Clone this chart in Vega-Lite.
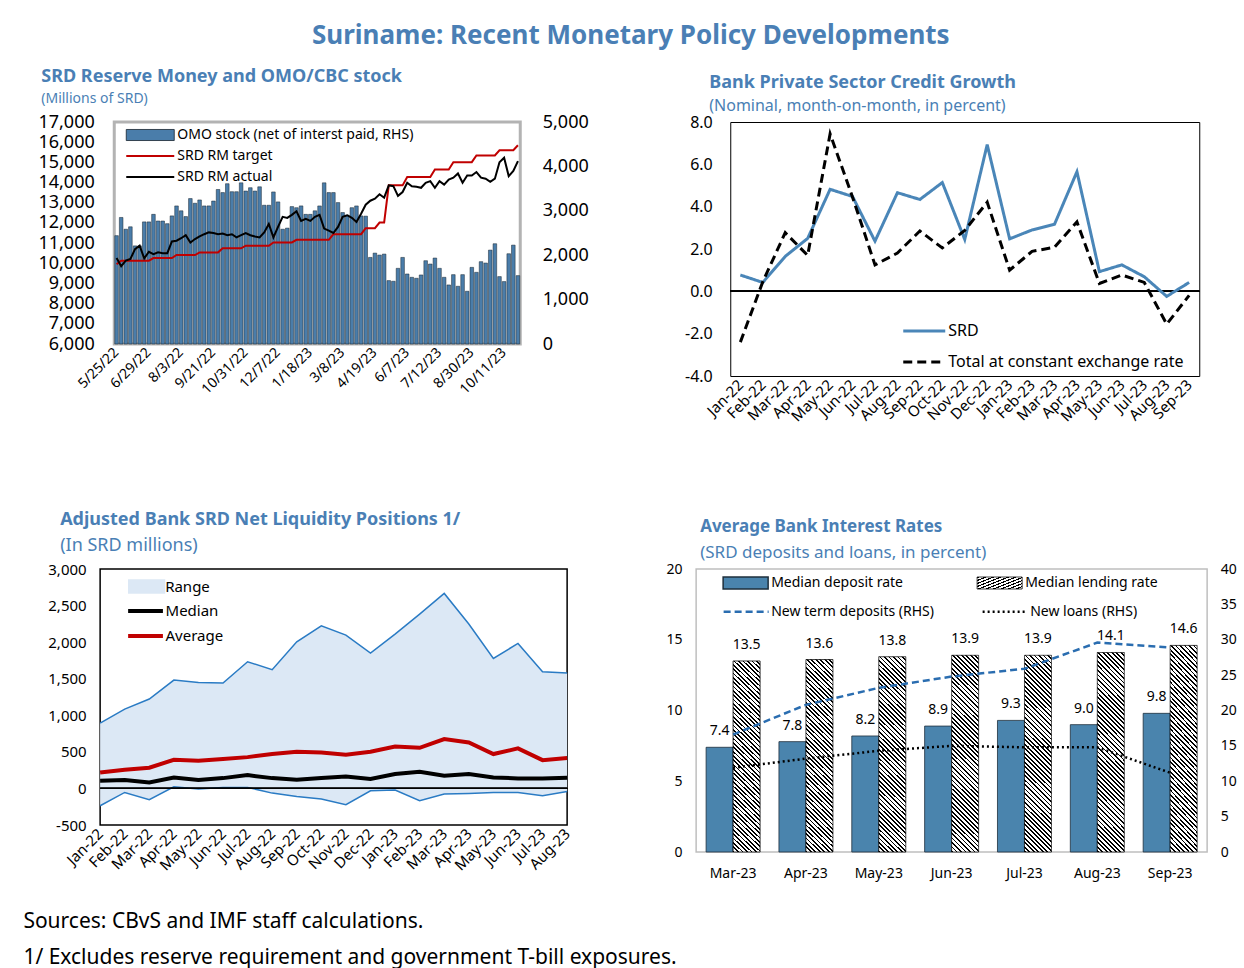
{
"$schema": "https://vega.github.io/schema/vega-lite/v6.json",
"padding": {"left": 21, "top": 22, "right": 0, "bottom": 0},
"background": "white",
"config": {
  "font": "Noto Sans",
  "view": {"stroke": null},
  "axis": {"labelColor": "#000", "labelFont": "Noto Sans", "grid": false, "domain": false, "ticks": false, "labelOverlap": false},
  "legend": {"labelColor": "#000", "labelFont": "Noto Sans", "padding": 0, "labelLimit": 400},
  "title": {"color": "#4a7fb5", "subtitleColor": "#4a7fb5", "fontWeight": "bold", "subtitleFontWeight": "normal", "font": "Noto Sans", "subtitleFont": "Noto Sans"}
},
"title": {"text": "Suriname: Recent Monetary Policy Developments", "fontSize": 26, "anchor": "middle", "offset": 18},
"datasets": {
"rm": [
{"date":"5/25/22","omo":2440,"SRD RM target":9950,"SRD RM actual":10260},
{"date":"5/30/22","omo":2850,"SRD RM target":10130,"SRD RM actual":9850},
{"date":"6/4/22","omo":2585,"SRD RM target":10130,"SRD RM actual":10130},
{"date":"6/9/22","omo":2640,"SRD RM target":10130,"SRD RM actual":10210},
{"date":"6/14/22","omo":2210,"SRD RM target":10130,"SRD RM actual":10700},
{"date":"6/19/22","omo":2210,"SRD RM target":10130,"SRD RM actual":10870},
{"date":"6/24/22","omo":2750,"SRD RM target":10130,"SRD RM actual":10240},
{"date":"6/29/22","omo":2750,"SRD RM target":10130,"SRD RM actual":10570},
{"date":"7/4/22","omo":2920,"SRD RM target":10260,"SRD RM actual":10450},
{"date":"7/9/22","omo":2770,"SRD RM target":10260,"SRD RM actual":10540},
{"date":"7/14/22","omo":2770,"SRD RM target":10260,"SRD RM actual":10500},
{"date":"7/19/22","omo":2710,"SRD RM target":10260,"SRD RM actual":10500},
{"date":"7/24/22","omo":2885,"SRD RM target":10260,"SRD RM actual":11080},
{"date":"7/29/22","omo":3110,"SRD RM target":10410,"SRD RM actual":11120},
{"date":"8/3/22","omo":3000,"SRD RM target":10410,"SRD RM actual":11240},
{"date":"8/10/22","omo":2870,"SRD RM target":10410,"SRD RM actual":11390},
{"date":"8/17/22","omo":3275,"SRD RM target":10410,"SRD RM actual":11030},
{"date":"8/24/22","omo":3170,"SRD RM target":10410,"SRD RM actual":11200},
{"date":"8/31/22","omo":3245,"SRD RM target":10540,"SRD RM actual":11330},
{"date":"9/7/22","omo":3110,"SRD RM target":10540,"SRD RM actual":11440},
{"date":"9/14/22","omo":3110,"SRD RM target":10540,"SRD RM actual":11530},
{"date":"9/21/22","omo":3220,"SRD RM target":10540,"SRD RM actual":11500},
{"date":"9/27/22","omo":3480,"SRD RM target":10540,"SRD RM actual":11440},
{"date":"10/3/22","omo":3410,"SRD RM target":10740,"SRD RM actual":11470},
{"date":"10/9/22","omo":3610,"SRD RM target":10740,"SRD RM actual":11390},
{"date":"10/15/22","omo":3430,"SRD RM target":10740,"SRD RM actual":11440},
{"date":"10/20/22","omo":3430,"SRD RM target":10740,"SRD RM actual":11280},
{"date":"10/25/22","omo":3630,"SRD RM target":10740,"SRD RM actual":11390},
{"date":"10/31/22","omo":3445,"SRD RM target":10870,"SRD RM actual":11500},
{"date":"11/5/22","omo":3520,"SRD RM target":10870,"SRD RM actual":11390},
{"date":"11/10/22","omo":3445,"SRD RM target":10870,"SRD RM actual":11330},
{"date":"11/16/22","omo":3540,"SRD RM target":10870,"SRD RM actual":11280},
{"date":"11/22/22","omo":3125,"SRD RM target":10870,"SRD RM actual":11530},
{"date":"11/27/22","omo":3125,"SRD RM target":10870,"SRD RM actual":11950},
{"date":"12/2/22","omo":3425,"SRD RM target":11030,"SRD RM actual":11280},
{"date":"12/7/22","omo":3200,"SRD RM target":11030,"SRD RM actual":11800},
{"date":"12/13/22","omo":2585,"SRD RM target":11030,"SRD RM actual":12300},
{"date":"12/19/22","omo":2610,"SRD RM target":11030,"SRD RM actual":12250},
{"date":"12/25/22","omo":3095,"SRD RM target":11030,"SRD RM actual":12400},
{"date":"12/31/22","omo":3070,"SRD RM target":11160,"SRD RM actual":12580},
{"date":"1/6/23","omo":3110,"SRD RM target":11160,"SRD RM actual":12100},
{"date":"1/12/23","omo":2920,"SRD RM target":11160,"SRD RM actual":12200},
{"date":"1/18/23","omo":2920,"SRD RM target":11160,"SRD RM actual":12100},
{"date":"1/25/23","omo":3000,"SRD RM target":11160,"SRD RM actual":12300},
{"date":"2/1/23","omo":3110,"SRD RM target":11160,"SRD RM actual":12400},
{"date":"2/8/23","omo":3630,"SRD RM target":11160,"SRD RM actual":11720},
{"date":"2/15/23","omo":3410,"SRD RM target":11160,"SRD RM actual":11620},
{"date":"2/22/23","omo":3410,"SRD RM target":11440,"SRD RM actual":11500},
{"date":"3/1/23","omo":3185,"SRD RM target":11440,"SRD RM actual":11800},
{"date":"3/8/23","omo":2960,"SRD RM target":11440,"SRD RM actual":12300},
{"date":"3/14/23","omo":2900,"SRD RM target":11440,"SRD RM actual":12380},
{"date":"3/20/23","omo":3070,"SRD RM target":11440,"SRD RM actual":12250},
{"date":"3/26/23","omo":3110,"SRD RM target":11440,"SRD RM actual":12050},
{"date":"4/1/23","omo":2885,"SRD RM target":11440,"SRD RM actual":12450},
{"date":"4/7/23","omo":2880,"SRD RM target":11740,"SRD RM actual":12900},
{"date":"4/13/23","omo":1950,"SRD RM target":11740,"SRD RM actual":13100},
{"date":"4/19/23","omo":2047,"SRD RM target":11740,"SRD RM actual":13200},
{"date":"4/26/23","omo":2003,"SRD RM target":12020,"SRD RM actual":13420},
{"date":"5/3/23","omo":2025,"SRD RM target":12020,"SRD RM actual":13250},
{"date":"5/10/23","omo":1428,"SRD RM target":13860,"SRD RM actual":13860},
{"date":"5/17/23","omo":1413,"SRD RM target":13860,"SRD RM actual":13820},
{"date":"5/24/23","omo":1704,"SRD RM target":13860,"SRD RM actual":13340},
{"date":"5/31/23","omo":1950,"SRD RM target":13860,"SRD RM actual":13530},
{"date":"6/7/23","omo":1577,"SRD RM target":14270,"SRD RM actual":13990},
{"date":"6/12/23","omo":1502,"SRD RM target":14270,"SRD RM actual":13820},
{"date":"6/17/23","omo":1480,"SRD RM target":14270,"SRD RM actual":13790},
{"date":"6/22/23","omo":1555,"SRD RM target":14270,"SRD RM actual":13740},
{"date":"6/27/23","omo":1876,"SRD RM target":14270,"SRD RM actual":13990},
{"date":"7/2/23","omo":1801,"SRD RM target":14270,"SRD RM actual":14070},
{"date":"7/7/23","omo":1936,"SRD RM target":14650,"SRD RM actual":13740},
{"date":"7/12/23","omo":1704,"SRD RM target":14650,"SRD RM actual":14070},
{"date":"7/19/23","omo":1502,"SRD RM target":14650,"SRD RM actual":13900},
{"date":"7/26/23","omo":1330,"SRD RM target":14650,"SRD RM actual":14150},
{"date":"8/2/23","omo":1562,"SRD RM target":15010,"SRD RM actual":14240},
{"date":"8/9/23","omo":1300,"SRD RM target":15010,"SRD RM actual":14450},
{"date":"8/16/23","omo":1562,"SRD RM target":15010,"SRD RM actual":13990},
{"date":"8/23/23","omo":1188,"SRD RM target":15010,"SRD RM actual":14350},
{"date":"8/30/23","omo":1726,"SRD RM target":15010,"SRD RM actual":14350},
{"date":"9/5/23","omo":1614,"SRD RM target":15340,"SRD RM actual":14520},
{"date":"9/11/23","omo":1854,"SRD RM target":15340,"SRD RM actual":14240},
{"date":"9/17/23","omo":1823,"SRD RM target":15340,"SRD RM actual":14190},
{"date":"9/23/23","omo":2115,"SRD RM target":15340,"SRD RM actual":14040},
{"date":"9/29/23","omo":2258,"SRD RM target":15340,"SRD RM actual":14190},
{"date":"10/5/23","omo":1518,"SRD RM target":15600,"SRD RM actual":15010},
{"date":"10/11/23","omo":1406,"SRD RM target":15600,"SRD RM actual":15230},
{"date":"10/17/23","omo":2033,"SRD RM target":15600,"SRD RM actual":14320},
{"date":"10/23/23","omo":2227,"SRD RM target":15600,"SRD RM actual":14570},
{"date":"10/29/23","omo":1540,"SRD RM target":15850,"SRD RM actual":15060}
],
"credit": [
{"month":"Jan-22","SRD":0.77,"Total at constant exchange rate":-2.4},
{"month":"Feb-22","SRD":0.42,"Total at constant exchange rate":0.45},
{"month":"Mar-22","SRD":1.65,"Total at constant exchange rate":2.77},
{"month":"Apr-22","SRD":2.5,"Total at constant exchange rate":1.7},
{"month":"May-22","SRD":4.82,"Total at constant exchange rate":7.44},
{"month":"Jun-22","SRD":4.48,"Total at constant exchange rate":4.45},
{"month":"Jul-22","SRD":2.37,"Total at constant exchange rate":1.25},
{"month":"Aug-22","SRD":4.66,"Total at constant exchange rate":1.81},
{"month":"Sep-22","SRD":4.34,"Total at constant exchange rate":2.85},
{"month":"Oct-22","SRD":5.14,"Total at constant exchange rate":2.05},
{"month":"Nov-22","SRD":2.45,"Total at constant exchange rate":2.88},
{"month":"Dec-22","SRD":6.93,"Total at constant exchange rate":4.21},
{"month":"Jan-23","SRD":2.48,"Total at constant exchange rate":1.0},
{"month":"Feb-23","SRD":2.9,"Total at constant exchange rate":1.89},
{"month":"Mar-23","SRD":3.17,"Total at constant exchange rate":2.08},
{"month":"Apr-23","SRD":5.65,"Total at constant exchange rate":3.28},
{"month":"May-23","SRD":0.93,"Total at constant exchange rate":0.37},
{"month":"Jun-23","SRD":1.25,"Total at constant exchange rate":0.77},
{"month":"Jul-23","SRD":0.69,"Total at constant exchange rate":0.42},
{"month":"Aug-23","SRD":-0.24,"Total at constant exchange rate":-1.55},
{"month":"Sep-23","SRD":0.42,"Total at constant exchange rate":-0.19}
],
"liq": [
{"month":"Jan-22","low":-237,"high":893,"Median":105,"Average":219},
{"month":"Feb-22","low":-55,"high":1085,"Median":114,"Average":255},
{"month":"Mar-22","low":-155,"high":1222,"Median":82,"Average":283},
{"month":"Apr-22","low":23,"high":1481,"Median":150,"Average":392},
{"month":"May-22","low":-9,"high":1449,"Median":114,"Average":378},
{"month":"Jun-22","low":14,"high":1440,"Median":141,"Average":401},
{"month":"Jul-22","low":14,"high":1732,"Median":182,"Average":428},
{"month":"Aug-22","low":-64,"high":1623,"Median":141,"Average":470},
{"month":"Sep-22","low":-109,"high":2005,"Median":118,"Average":501},
{"month":"Oct-22","low":-146,"high":2224,"Median":141,"Average":492},
{"month":"Nov-22","low":-223,"high":2097,"Median":164,"Average":460},
{"month":"Dec-22","low":-32,"high":1850,"Median":128,"Average":501},
{"month":"Jan-23","low":-23,"high":2110,"Median":196,"Average":574},
{"month":"Feb-23","low":-169,"high":2384,"Median":228,"Average":556},
{"month":"Mar-23","low":-77,"high":2666,"Median":173,"Average":675},
{"month":"Apr-23","low":-68,"high":2247,"Median":196,"Average":629},
{"month":"May-23","low":-55,"high":1777,"Median":150,"Average":470},
{"month":"Jun-23","low":-55,"high":1983,"Median":137,"Average":547},
{"month":"Jul-23","low":-100,"high":1595,"Median":137,"Average":387},
{"month":"Aug-23","low":-41,"high":1577,"Median":146,"Average":415}
],
"rates": [
{"month":"Mar-23","dep":7.4,"lend":13.5,"New term deposits (RHS)":16.6,"New loans (RHS)":11.9},
{"month":"Apr-23","dep":7.8,"lend":13.6,"New term deposits (RHS)":20.8,"New loans (RHS)":13.2},
{"month":"May-23","dep":8.2,"lend":13.8,"New term deposits (RHS)":23.2,"New loans (RHS)":14.3},
{"month":"Jun-23","dep":8.9,"lend":13.9,"New term deposits (RHS)":24.8,"New loans (RHS)":15.0},
{"month":"Jul-23","dep":9.3,"lend":13.9,"New term deposits (RHS)":25.9,"New loans (RHS)":14.8},
{"month":"Aug-23","dep":9.0,"lend":14.1,"New term deposits (RHS)":29.6,"New loans (RHS)":14.8},
{"month":"Sep-23","dep":9.8,"lend":14.6,"New term deposits (RHS)":28.9,"New loans (RHS)":11.2}
]
},
"center": true,
"spacing": 85,
"resolve": {"scale": {"fill": "independent", "stroke": "independent", "strokeDash": "independent", "opacity": "independent", "xOffset": "independent"}},
"vconcat": [
{
"spacing": 90,
"resolve": {"scale": {"fill": "independent", "stroke": "independent", "strokeDash": "independent"}},
"hconcat": [
{
  "width": 406, "height": 222,
  "view": {"stroke": "#b3b3b3", "strokeWidth": 3},
  "title": {"text": "SRD Reserve Money and OMO/CBC stock", "subtitle": "(Millions of SRD)", "anchor": "start", "frame": "group", "dx": -73, "fontSize": 18, "subtitleFontSize": 14, "offset": 7, "subtitlePadding": 6},
  "data": {"name": "rm"},
  "encoding": {
    "x": {"field": "date", "type": "ordinal", "sort": null, "scale": {"paddingInner": 0, "paddingOuter": 0},
      "axis": {"values": ["5/25/22","6/29/22","8/3/22","9/21/22","10/31/22","12/7/22","1/18/23","3/8/23","4/19/23","6/7/23","7/12/23","8/30/23","10/11/23"], "labelAngle": -45, "labelAlign": "right", "labelBaseline": "middle", "labelFontSize": 14, "labelPadding": 6, "labelOverlap": false, "title": null}}
  },
  "layer": [
    {"mark": {"type": "bar", "width": {"band": 0.78}, "stroke": "#17222d", "strokeWidth": 0.5},
     "encoding": {
       "y": {"field": "omo", "type": "quantitative", "scale": {"domain": [0, 5000]}, "axis": {"orient": "right", "values": [0,1000,2000,3000,4000,5000], "format": ",d", "labelFontSize": 18, "labelPadding": 22, "minExtent": 70, "title": null}},
       "fill": {"datum": "OMO stock (net of interst paid, RHS)", "type": "nominal", "scale": {"range": ["#4a7daa"]},
         "legend": {"title": null, "orient": "none", "legendX": 12, "legendY": 6, "symbolType": "M-4,-0.92H4V0.92H-4Z", "symbolSize": 144, "symbolStrokeColor": "#17222d", "symbolStrokeWidth": 0.8, "symbolOffset": 17, "labelOffset": 20, "labelFontSize": 14, "padding": 0}}
     }},
    {"transform": [{"fold": ["SRD RM target", "SRD RM actual"], "as": ["series", "val"]}],
     "mark": {"type": "line", "strokeWidth": 2},
     "encoding": {
       "y": {"field": "val", "type": "quantitative", "scale": {"domain": [6000, 17000]}, "axis": {"orient": "left", "values": [6000,7000,8000,9000,10000,11000,12000,13000,14000,15000,16000,17000], "format": ",d", "labelFontSize": 18, "labelPadding": 20, "minExtent": 91, "title": null}},
       "stroke": {"field": "series", "type": "nominal", "scale": {"domain": ["SRD RM target", "SRD RM actual"], "range": ["#c00000", "#000000"]},
         "legend": {"title": null, "orient": "none", "legendX": 12, "legendY": 27, "symbolType": "M-4,0H4", "symbolSize": 144, "symbolStrokeWidth": 2, "symbolOffset": 17, "labelOffset": 20, "labelFontSize": 14, "rowPadding": 7, "padding": 0}},
       "order": {"value": null}
     }}
  ],
  "resolve": {"scale": {"y": "independent"}}
},
{
  "width": 469, "height": 254,
  "view": {"stroke": "#000", "strokeWidth": 1},
  "title": {"text": "Bank Private Sector Credit Growth", "subtitle": "(Nominal, month-on-month, in percent)", "anchor": "start", "frame": "group", "dx": -21, "fontSize": 18, "subtitleFontSize": 16, "offset": 0, "subtitlePadding": 6},
  "data": {"name": "credit"},
  "layer": [
    {"mark": {"type": "rule", "color": "#000", "strokeWidth": 1},
     "encoding": {"y": {"datum": 0, "type": "quantitative", "scale": {"domain": [-4, 8]},
       "axis": {"orient": "right", "values": [0], "labelOpacity": 0, "labelFontSize": 8, "labelPadding": 0, "minExtent": 26, "maxExtent": 26, "title": null}}}},
    {"transform": [{"fold": ["SRD", "Total at constant exchange rate"], "as": ["series", "val"]}],
     "mark": {"type": "line", "strokeWidth": 3},
     "encoding": {
       "x": {"field": "month", "type": "ordinal", "sort": null, "scale": {"type": "point", "padding": 0.45},
         "axis": {"labelAngle": -45, "labelAlign": "right", "labelBaseline": "middle", "labelFontSize": 15, "labelPadding": 6, "labelOverlap": false, "title": null}},
       "y": {"field": "val", "type": "quantitative", "scale": {"domain": [-4, 8]}, "axis": {"orient": "left", "values": [-4,-2,0,2,4,6,8], "labelExpr": "datum.value < 0 ? '-' + format(-datum.value, '.1f') : format(datum.value, '.1f')", "labelFontSize": 16, "labelPadding": 18, "minExtent": 47, "title": null}},
       "stroke": {"field": "series", "type": "nominal", "scale": {"domain": ["SRD", "Total at constant exchange rate"], "range": ["#4a86b8", "#000000"]},
         "legend": {"title": null, "orient": "none", "legendX": 173, "legendY": 201, "symbolType": "M-3.5,0H3.5", "symbolSize": 144, "symbolStrokeWidth": 3, "symbolOffset": 13, "labelOffset": 16, "labelFontSize": 16, "rowPadding": 15, "padding": 0}},
       "strokeDash": {"field": "series", "type": "nominal", "scale": {"domain": ["SRD", "Total at constant exchange rate"], "range": [[1,0],[9,5]]},
         "legend": {"title": null, "orient": "none", "legendX": 173, "legendY": 201, "symbolType": "M-3.5,0H3.5", "symbolSize": 144, "symbolStrokeWidth": 3, "symbolOffset": 13, "labelOffset": 16, "labelFontSize": 16, "rowPadding": 15, "padding": 0}},
       "order": {"value": null}
     }}
  ],
  "resolve": {"axis": {"y": "independent"}}
}
]
},
{
"spacing": 87,
"resolve": {"scale": {"fill": "independent", "stroke": "independent", "strokeDash": "independent", "opacity": "independent", "xOffset": "independent"}},
"title": {"text": ["Sources: CBvS and IMF staff calculations.", "1/ Excludes reserve requirement and government T-bill exposures."], "orient": "bottom", "anchor": "start", "frame": "bounds", "dx": -13, "fontSize": 21, "fontWeight": "normal", "color": "#000", "lineHeight": 36, "offset": 30},
"hconcat": [
{
  "width": 467, "height": 256,
  "view": {"stroke": "#000", "strokeWidth": 1.5},
  "title": {"text": "Adjusted Bank SRD Net Liquidity Positions 1/", "subtitle": "(In SRD millions)", "anchor": "start", "frame": "group", "dx": -40, "fontSize": 18, "subtitleFontSize": 18, "offset": 7, "subtitlePadding": 8},
  "data": {"name": "liq"},
  "layer": [
    {"mark": {"type": "area", "opacity": 1},
     "encoding": {
       "x": {"field": "month", "type": "ordinal", "sort": null, "scale": {"type": "point", "padding": 0},
         "axis": {"labelAngle": -45, "labelAlign": "right", "labelBaseline": "middle", "labelFontSize": 15, "labelPadding": 6, "labelOverlap": false, "title": null}},
       "y": {"field": "low", "type": "quantitative", "stack": null, "scale": {"domain": [-500, 3000]},
         "axis": {"values": [-500,0,500,1000,1500,2000,2500,3000], "labelExpr": "datum.value < 0 ? '-' + format(-datum.value, ',') : format(datum.value, ',')", "labelFontSize": 15, "labelPadding": 14, "labelOverlap": false, "minExtent": 63, "title": null}},
       "y2": {"field": "high"},
       "fill": {"datum": "Range", "type": "nominal", "scale": {"range": ["#dce8f5"]},
         "legend": {"title": null, "orient": "none", "legendX": 28, "legendY": 10, "symbolType": "M-3.1,-1.2H3.1V1.2H-3.1Z", "symbolSize": 144, "symbolStrokeWidth": 0, "symbolOffset": 11, "labelOffset": 11, "labelFontSize": 15, "padding": 0}},
       "order": {"value": null}
     }},
    {"mark": {"type": "line", "color": "#2a7bc4", "strokeWidth": 1.5},
     "encoding": {
       "x": {"field": "month", "type": "ordinal", "sort": null, "scale": {"type": "point", "padding": 0},
         "axis": {"labelAngle": -45, "labelAlign": "right", "labelBaseline": "middle", "labelFontSize": 15, "labelPadding": 6, "labelOverlap": false, "title": null}},
       "y": {"field": "high", "type": "quantitative", "scale": {"domain": [-500, 3000]},
         "axis": {"values": [-500,0,500,1000,1500,2000,2500,3000], "labelExpr": "datum.value < 0 ? '-' + format(-datum.value, ',') : format(datum.value, ',')", "labelFontSize": 15, "labelPadding": 14, "labelOverlap": false, "minExtent": 63, "title": null}},
       "order": {"value": null}
     }},
    {"mark": {"type": "line", "color": "#2a7bc4", "strokeWidth": 1.5},
     "encoding": {
       "x": {"field": "month", "type": "ordinal", "sort": null, "scale": {"type": "point", "padding": 0},
         "axis": {"labelAngle": -45, "labelAlign": "right", "labelBaseline": "middle", "labelFontSize": 15, "labelPadding": 6, "labelOverlap": false, "title": null}},
       "y": {"field": "low", "type": "quantitative", "scale": {"domain": [-500, 3000]},
         "axis": {"values": [-500,0,500,1000,1500,2000,2500,3000], "labelExpr": "datum.value < 0 ? '-' + format(-datum.value, ',') : format(datum.value, ',')", "labelFontSize": 15, "labelPadding": 14, "labelOverlap": false, "minExtent": 63, "title": null}},
       "order": {"value": null}
     }},
    {"mark": {"type": "rule", "color": "#000", "strokeWidth": 1},
     "encoding": {"y": {"datum": 0, "type": "quantitative", "scale": {"domain": [-500, 3000]},
         "axis": {"values": [-500,0,500,1000,1500,2000,2500,3000], "labelExpr": "datum.value < 0 ? '-' + format(-datum.value, ',') : format(datum.value, ',')", "labelFontSize": 15, "labelPadding": 14, "labelOverlap": false, "minExtent": 63, "title": null}}}},
    {"transform": [{"fold": ["Median", "Average"], "as": ["series", "val"]}],
     "mark": {"type": "line", "strokeWidth": 4},
     "encoding": {
       "x": {"field": "month", "type": "ordinal", "sort": null, "scale": {"type": "point", "padding": 0},
         "axis": {"labelAngle": -45, "labelAlign": "right", "labelBaseline": "middle", "labelFontSize": 15, "labelPadding": 6, "labelOverlap": false, "title": null}},
       "y": {"field": "val", "type": "quantitative", "scale": {"domain": [-500, 3000]},
         "axis": {"values": [-500,0,500,1000,1500,2000,2500,3000], "labelExpr": "datum.value < 0 ? '-' + format(-datum.value, ',') : format(datum.value, ',')", "labelFontSize": 15, "labelPadding": 14, "labelOverlap": false, "minExtent": 63, "title": null}},
       "stroke": {"field": "series", "type": "nominal", "scale": {"domain": ["Median", "Average"], "range": ["#000000", "#c00000"]},
         "legend": {"title": null, "orient": "none", "legendX": 28, "legendY": 34, "symbolType": "M-2.9,0H2.9", "symbolSize": 144, "symbolStrokeWidth": 4, "symbolOffset": 9.4, "labelOffset": 12, "labelFontSize": 15, "rowPadding": 9, "padding": 0}},
       "order": {"value": null}
     }}
  ]
},
{
  "width": 511, "height": 283,
  "view": {"stroke": "#bfbfbf", "strokeWidth": 1.5},
  "title": {"text": "Average Bank Interest Rates", "subtitle": "(SRD deposits and loans, in percent)", "anchor": "start", "frame": "group", "dx": 4, "fontSize": 17, "subtitleFontSize": 17, "offset": 0, "subtitlePadding": 9},
  "data": {"name": "rates"},
  "encoding": {
    "x": {"field": "month", "type": "ordinal", "sort": null, "scale": {"paddingInner": 0.259, "paddingOuter": 0.137},
      "axis": {"labelAngle": 0, "labelFontSize": 14, "labelPadding": 14, "title": null}}
  },
  "layer": [
    {"mark": {"type": "bar", "fill": "#4a84ad", "stroke": "#1e2f3c", "strokeWidth": 0.8},
     "encoding": {
       "xOffset": {"datum": "dep", "scale": {"domain": ["dep", "lend"]}},
       "y": {"field": "dep", "type": "quantitative", "scale": {"domain": [0, 20]}, "axis": {"orient": "left", "values": [0,5,10,15,20], "labelFontSize": 14, "labelPadding": 14, "minExtent": 32, "title": null}},
       "opacity": {"datum": "Median deposit rate", "type": "nominal", "scale": {"range": [1]},
         "legend": {"title": null, "orient": "none", "legendX": 27, "legendY": 7, "symbolType": "M-3.75,-1H3.75V1H-3.75Z", "symbolSize": 144, "symbolOffset": 15.5, "labelOffset": 18.5, "labelFontSize": 14, "padding": 0,
           "encode": {"symbols": {"update": {"fill": {"value": "#4a84ad"}, "stroke": {"value": "#1e2f3c"}, "strokeWidth": {"value": 0.8}}}}}}
     }},
    {"mark": {"type": "bar", "stroke": "#000", "strokeWidth": 0.8,
       "fill": {"gradient": "linear", "x1": 0, "y1": 1, "x2": 0.1521, "y2": -0.1156, "stops": [
         {"offset":0,"color":"#000"},{"offset":0.008,"color":"#000"},{"offset":0.008,"color":"#fff"},{"offset":0.02,"color":"#fff"},
         {"offset":0.02,"color":"#000"},{"offset":0.028,"color":"#000"},{"offset":0.028,"color":"#fff"},{"offset":0.04,"color":"#fff"},
         {"offset":0.04,"color":"#000"},{"offset":0.048,"color":"#000"},{"offset":0.048,"color":"#fff"},{"offset":0.06,"color":"#fff"},
         {"offset":0.06,"color":"#000"},{"offset":0.068,"color":"#000"},{"offset":0.068,"color":"#fff"},{"offset":0.08,"color":"#fff"},
         {"offset":0.08,"color":"#000"},{"offset":0.088,"color":"#000"},{"offset":0.088,"color":"#fff"},{"offset":0.1,"color":"#fff"},
         {"offset":0.1,"color":"#000"},{"offset":0.108,"color":"#000"},{"offset":0.108,"color":"#fff"},{"offset":0.12,"color":"#fff"},
         {"offset":0.12,"color":"#000"},{"offset":0.128,"color":"#000"},{"offset":0.128,"color":"#fff"},{"offset":0.14,"color":"#fff"},
         {"offset":0.14,"color":"#000"},{"offset":0.148,"color":"#000"},{"offset":0.148,"color":"#fff"},{"offset":0.16,"color":"#fff"},
         {"offset":0.16,"color":"#000"},{"offset":0.168,"color":"#000"},{"offset":0.168,"color":"#fff"},{"offset":0.18,"color":"#fff"},
         {"offset":0.18,"color":"#000"},{"offset":0.188,"color":"#000"},{"offset":0.188,"color":"#fff"},{"offset":0.2,"color":"#fff"},
         {"offset":0.2,"color":"#000"},{"offset":0.208,"color":"#000"},{"offset":0.208,"color":"#fff"},{"offset":0.22,"color":"#fff"},
         {"offset":0.22,"color":"#000"},{"offset":0.228,"color":"#000"},{"offset":0.228,"color":"#fff"},{"offset":0.24,"color":"#fff"},
         {"offset":0.24,"color":"#000"},{"offset":0.248,"color":"#000"},{"offset":0.248,"color":"#fff"},{"offset":0.26,"color":"#fff"},
         {"offset":0.26,"color":"#000"},{"offset":0.268,"color":"#000"},{"offset":0.268,"color":"#fff"},{"offset":0.28,"color":"#fff"},
         {"offset":0.28,"color":"#000"},{"offset":0.288,"color":"#000"},{"offset":0.288,"color":"#fff"},{"offset":0.3,"color":"#fff"},
         {"offset":0.3,"color":"#000"},{"offset":0.308,"color":"#000"},{"offset":0.308,"color":"#fff"},{"offset":0.32,"color":"#fff"},
         {"offset":0.32,"color":"#000"},{"offset":0.328,"color":"#000"},{"offset":0.328,"color":"#fff"},{"offset":0.34,"color":"#fff"},
         {"offset":0.34,"color":"#000"},{"offset":0.348,"color":"#000"},{"offset":0.348,"color":"#fff"},{"offset":0.36,"color":"#fff"},
         {"offset":0.36,"color":"#000"},{"offset":0.368,"color":"#000"},{"offset":0.368,"color":"#fff"},{"offset":0.38,"color":"#fff"},
         {"offset":0.38,"color":"#000"},{"offset":0.388,"color":"#000"},{"offset":0.388,"color":"#fff"},{"offset":0.4,"color":"#fff"},
         {"offset":0.4,"color":"#000"},{"offset":0.408,"color":"#000"},{"offset":0.408,"color":"#fff"},{"offset":0.42,"color":"#fff"},
         {"offset":0.42,"color":"#000"},{"offset":0.428,"color":"#000"},{"offset":0.428,"color":"#fff"},{"offset":0.44,"color":"#fff"},
         {"offset":0.44,"color":"#000"},{"offset":0.448,"color":"#000"},{"offset":0.448,"color":"#fff"},{"offset":0.46,"color":"#fff"},
         {"offset":0.46,"color":"#000"},{"offset":0.468,"color":"#000"},{"offset":0.468,"color":"#fff"},{"offset":0.48,"color":"#fff"},
         {"offset":0.48,"color":"#000"},{"offset":0.488,"color":"#000"},{"offset":0.488,"color":"#fff"},{"offset":0.5,"color":"#fff"},
         {"offset":0.5,"color":"#000"},{"offset":0.508,"color":"#000"},{"offset":0.508,"color":"#fff"},{"offset":0.52,"color":"#fff"},
         {"offset":0.52,"color":"#000"},{"offset":0.528,"color":"#000"},{"offset":0.528,"color":"#fff"},{"offset":0.54,"color":"#fff"},
         {"offset":0.54,"color":"#000"},{"offset":0.548,"color":"#000"},{"offset":0.548,"color":"#fff"},{"offset":0.56,"color":"#fff"},
         {"offset":0.56,"color":"#000"},{"offset":0.568,"color":"#000"},{"offset":0.568,"color":"#fff"},{"offset":0.58,"color":"#fff"},
         {"offset":0.58,"color":"#000"},{"offset":0.588,"color":"#000"},{"offset":0.588,"color":"#fff"},{"offset":0.6,"color":"#fff"},
         {"offset":0.6,"color":"#000"},{"offset":0.608,"color":"#000"},{"offset":0.608,"color":"#fff"},{"offset":0.62,"color":"#fff"},
         {"offset":0.62,"color":"#000"},{"offset":0.628,"color":"#000"},{"offset":0.628,"color":"#fff"},{"offset":0.64,"color":"#fff"},
         {"offset":0.64,"color":"#000"},{"offset":0.648,"color":"#000"},{"offset":0.648,"color":"#fff"},{"offset":0.66,"color":"#fff"},
         {"offset":0.66,"color":"#000"},{"offset":0.668,"color":"#000"},{"offset":0.668,"color":"#fff"},{"offset":0.68,"color":"#fff"},
         {"offset":0.68,"color":"#000"},{"offset":0.688,"color":"#000"},{"offset":0.688,"color":"#fff"},{"offset":0.7,"color":"#fff"},
         {"offset":0.7,"color":"#000"},{"offset":0.708,"color":"#000"},{"offset":0.708,"color":"#fff"},{"offset":0.72,"color":"#fff"},
         {"offset":0.72,"color":"#000"},{"offset":0.728,"color":"#000"},{"offset":0.728,"color":"#fff"},{"offset":0.74,"color":"#fff"},
         {"offset":0.74,"color":"#000"},{"offset":0.748,"color":"#000"},{"offset":0.748,"color":"#fff"},{"offset":0.76,"color":"#fff"},
         {"offset":0.76,"color":"#000"},{"offset":0.768,"color":"#000"},{"offset":0.768,"color":"#fff"},{"offset":0.78,"color":"#fff"},
         {"offset":0.78,"color":"#000"},{"offset":0.788,"color":"#000"},{"offset":0.788,"color":"#fff"},{"offset":0.8,"color":"#fff"},
         {"offset":0.8,"color":"#000"},{"offset":0.808,"color":"#000"},{"offset":0.808,"color":"#fff"},{"offset":0.82,"color":"#fff"},
         {"offset":0.82,"color":"#000"},{"offset":0.828,"color":"#000"},{"offset":0.828,"color":"#fff"},{"offset":0.84,"color":"#fff"},
         {"offset":0.84,"color":"#000"},{"offset":0.848,"color":"#000"},{"offset":0.848,"color":"#fff"},{"offset":0.86,"color":"#fff"},
         {"offset":0.86,"color":"#000"},{"offset":0.868,"color":"#000"},{"offset":0.868,"color":"#fff"},{"offset":0.88,"color":"#fff"},
         {"offset":0.88,"color":"#000"},{"offset":0.888,"color":"#000"},{"offset":0.888,"color":"#fff"},{"offset":0.9,"color":"#fff"},
         {"offset":0.9,"color":"#000"},{"offset":0.908,"color":"#000"},{"offset":0.908,"color":"#fff"},{"offset":0.92,"color":"#fff"},
         {"offset":0.92,"color":"#000"},{"offset":0.928,"color":"#000"},{"offset":0.928,"color":"#fff"},{"offset":0.94,"color":"#fff"},
         {"offset":0.94,"color":"#000"},{"offset":0.948,"color":"#000"},{"offset":0.948,"color":"#fff"},{"offset":0.96,"color":"#fff"},
         {"offset":0.96,"color":"#000"},{"offset":0.968,"color":"#000"},{"offset":0.968,"color":"#fff"},{"offset":0.98,"color":"#fff"},
         {"offset":0.98,"color":"#000"},{"offset":0.988,"color":"#000"},{"offset":0.988,"color":"#fff"},{"offset":1,"color":"#fff"}
       ]}},
     "encoding": {
       "xOffset": {"datum": "lend", "scale": {"domain": ["dep", "lend"]}},
       "y": {"field": "lend", "type": "quantitative", "scale": {"domain": [0, 20]}, "axis": null},
       "strokeDash": {"datum": "Median lending rate", "type": "nominal", "scale": {"range": [[1,0]]},
         "legend": {"title": null, "orient": "none", "legendX": 281, "legendY": 7, "symbolType": "M-3.75,-1H3.75V1H-3.75Z", "symbolSize": 144, "symbolStrokeWidth": 0.8, "symbolOffset": 15.5, "labelOffset": 18.5, "labelFontSize": 14, "padding": 0,
           "encode": {"symbols": {"update": {
             "fill": {"value": {"gradient": "linear", "x1": 0, "y1": 1, "x2": 1.1826, "y2": 0.6847, "stops": [
               {"offset":0,"color":"#000"},{"offset":0.032,"color":"#000"},{"offset":0.032,"color":"#fff"},{"offset":0.079,"color":"#fff"},
               {"offset":0.079,"color":"#000"},{"offset":0.111,"color":"#000"},{"offset":0.111,"color":"#fff"},{"offset":0.158,"color":"#fff"},
               {"offset":0.158,"color":"#000"},{"offset":0.19,"color":"#000"},{"offset":0.19,"color":"#fff"},{"offset":0.237,"color":"#fff"},
               {"offset":0.237,"color":"#000"},{"offset":0.269,"color":"#000"},{"offset":0.269,"color":"#fff"},{"offset":0.316,"color":"#fff"},
               {"offset":0.316,"color":"#000"},{"offset":0.348,"color":"#000"},{"offset":0.348,"color":"#fff"},{"offset":0.395,"color":"#fff"},
               {"offset":0.395,"color":"#000"},{"offset":0.427,"color":"#000"},{"offset":0.427,"color":"#fff"},{"offset":0.474,"color":"#fff"},
               {"offset":0.474,"color":"#000"},{"offset":0.506,"color":"#000"},{"offset":0.506,"color":"#fff"},{"offset":0.553,"color":"#fff"},
               {"offset":0.553,"color":"#000"},{"offset":0.585,"color":"#000"},{"offset":0.585,"color":"#fff"},{"offset":0.632,"color":"#fff"},
               {"offset":0.632,"color":"#000"},{"offset":0.664,"color":"#000"},{"offset":0.664,"color":"#fff"},{"offset":0.711,"color":"#fff"},
               {"offset":0.711,"color":"#000"},{"offset":0.743,"color":"#000"},{"offset":0.743,"color":"#fff"},{"offset":0.79,"color":"#fff"},
               {"offset":0.79,"color":"#000"},{"offset":0.822,"color":"#000"},{"offset":0.822,"color":"#fff"},{"offset":0.869,"color":"#fff"},
               {"offset":0.869,"color":"#000"},{"offset":0.901,"color":"#000"},{"offset":0.901,"color":"#fff"},{"offset":0.948,"color":"#fff"},
               {"offset":0.948,"color":"#000"},{"offset":0.98,"color":"#000"},{"offset":0.98,"color":"#fff"},{"offset":1,"color":"#fff"}
             ]}},
             "stroke": {"value": "#000"},
             "strokeWidth": {"value": 0.8}
           }}}}}
     }},
    {"mark": {"type": "text", "fontSize": 14, "baseline": "alphabetic", "dy": -12, "color": "#000"},
     "encoding": {
       "xOffset": {"datum": "dep", "scale": {"domain": ["dep", "lend"]}},
       "y": {"field": "dep", "type": "quantitative", "scale": {"domain": [0, 20]}, "axis": null},
       "text": {"field": "dep", "type": "quantitative", "format": ".1f"}
     }},
    {"mark": {"type": "text", "fontSize": 14, "baseline": "alphabetic", "dy": -12, "color": "#000"},
     "encoding": {
       "xOffset": {"datum": "lend", "scale": {"domain": ["dep", "lend"]}},
       "y": {"field": "lend", "type": "quantitative", "scale": {"domain": [0, 20]}, "axis": null},
       "text": {"field": "lend", "type": "quantitative", "format": ".1f"}
     }},
    {"transform": [{"fold": ["New term deposits (RHS)", "New loans (RHS)"], "as": ["series", "val"]}],
     "mark": {"type": "line", "strokeWidth": 2.5},
     "encoding": {
       "y": {"field": "val", "type": "quantitative", "scale": {"domain": [0, 40]}, "axis": {"orient": "right", "values": [0,5,10,15,20,25,30,35,40], "labelFontSize": 14, "labelPadding": 13, "minExtent": 32, "title": null}},
       "stroke": {"field": "series", "type": "nominal", "scale": {"domain": ["New term deposits (RHS)", "New loans (RHS)"], "range": ["#2a6db0", "#000000"]},
         "legend": {"title": null, "orient": "none", "legendX": 27, "legendY": 35, "direction": "horizontal", "columns": 2, "columnPadding": 43, "symbolType": "M-3.75,0H3.75", "symbolSize": 144, "symbolStrokeWidth": 2.5, "symbolOffset": 15.5, "labelOffset": 17.5, "labelFontSize": 14, "padding": 0}},
       "strokeDash": {"field": "series", "type": "nominal", "scale": {"domain": ["New term deposits (RHS)", "New loans (RHS)"], "range": [[7,4],[2,3]]},
         "legend": {"title": null, "orient": "none", "legendX": 27, "legendY": 35, "direction": "horizontal", "columns": 2, "columnPadding": 43, "symbolType": "M-3.75,0H3.75", "symbolSize": 144, "symbolStrokeWidth": 2.5, "symbolOffset": 15.5, "labelOffset": 17.5, "labelFontSize": 14, "padding": 0}},
       "order": {"value": null}
     }}
  ],
  "resolve": {"scale": {"y": "independent", "strokeDash": "independent", "stroke": "independent"}}
}
]
}
]
}
